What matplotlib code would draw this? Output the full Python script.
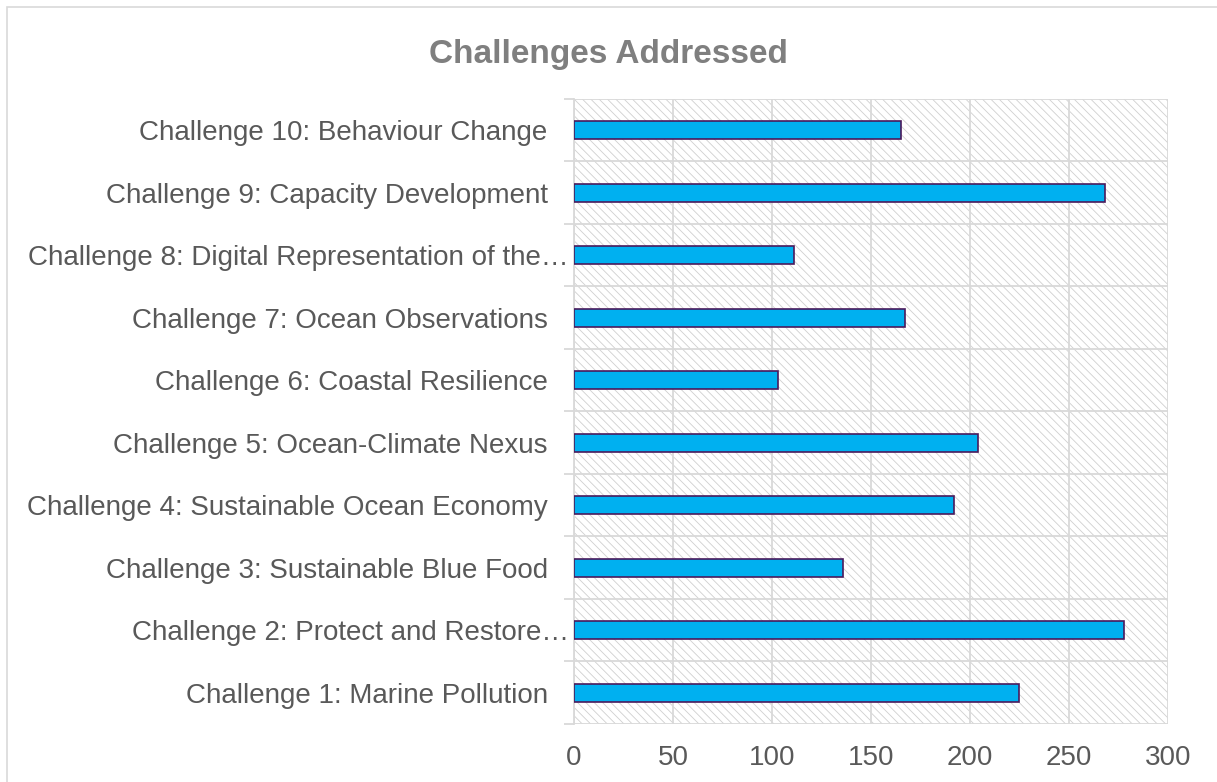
import numpy as np
import matplotlib
matplotlib.use('Agg')
import matplotlib.pyplot as plt
from matplotlib.patches import Rectangle

plt.rcParams['font.family'] = ['Liberation Sans', 'DejaVu Sans']
plt.rcParams['hatch.linewidth'] = 0.6
plt.rcParams['hatch.color'] = '#d0d0d0'

labels = ['Challenge 1: Marine Pollution',
          'Challenge 2: Protect and Restore\u2026',
          'Challenge 3: Sustainable Blue Food',
          'Challenge 4: Sustainable Ocean Economy',
          'Challenge 5: Ocean-Climate Nexus',
          'Challenge 6: Coastal Resilience',
          'Challenge 7: Ocean Observations',
          'Challenge 8: Digital Representation of the\u2026',
          'Challenge 9: Capacity Development',
          'Challenge 10: Behaviour Change']
counts = [225, 278, 136, 192, 204, 103, 167, 111, 268, 165]
xticks = [0, 50, 100, 150, 200, 250, 300]

fig = plt.figure(figsize=(12.17, 7.82), dpi=100)
ax = fig.add_axes([0.4717, 0.0742, 0.9597 - 0.4717, 0.8734 - 0.0742])

y = np.arange(len(labels))

# hatched plot area
bg = Rectangle((0, 0), 1, 1, transform=ax.transAxes, facecolor='white',
               edgecolor='#d0d0d0', hatch='\\\\\\\\', lw=0, zorder=0)
ax.add_patch(bg)

ax.barh(y, counts, height=0.29, color='#00B0F0', edgecolor='#4a1a5c',
        linewidth=1.2, zorder=3)

ax.set_xlim(0, 300)
ax.set_ylim(-0.5, len(labels) - 0.5)
ax.set_xticks(xticks)
ax.set_yticks(y)
ax.set_yticklabels(labels)
ax.set_yticks(np.arange(-0.5, len(labels), 1), minor=True)

ax.grid(axis='x', color='#d9d9d9', lw=1.3, zorder=1)
ax.grid(axis='y', which='minor', color='#d9d9d9', lw=1.3, zorder=1)
ax.set_axisbelow(True)

for s in ['top', 'right', 'bottom']:
    ax.spines[s].set_visible(False)
ax.spines['left'].set_color('#d9d9d9')
ax.spines['left'].set_linewidth(1.3)

ax.tick_params(axis='y', which='major', length=0, pad=19, labelsize=20,
               labelcolor='#595959')
ax.tick_params(axis='y', which='minor', length=7, width=1.3, color='#d9d9d9')
ax.tick_params(axis='x', length=0, pad=15, labelsize=20, labelcolor='#595959')

# truncated labels run right up to the axis
for i in [1, 7]:
    ax.get_yticklabels()[i].set_x(0.036)

fig.text(0.5, 0.93, 'Challenges Addressed', ha='center', va='center',
         fontsize=24, fontweight='bold', color='#7f7f7f')

fig.add_artist(Rectangle((0.0058, -0.05), 1.2, 0.991 + 0.05,
                         transform=fig.transFigure, fill=False,
                         edgecolor='#d9d9d9', lw=1.2))

fig.savefig('out.png', dpi=100)
